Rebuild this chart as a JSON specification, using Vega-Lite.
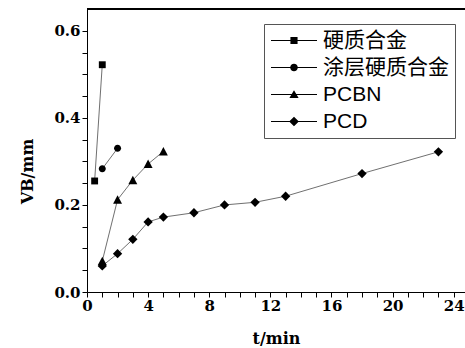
{
  "$schema": "https://vega.github.io/schema/vega-lite/v6.json",
  "width": 378,
  "height": 283,
  "autosize": {"type": "none"},
  "padding": {"left": 87, "top": 9, "right": 0, "bottom": 56},
  "background": "white",
  "config": {
    "view": {"stroke": null},
    "axis": {
      "grid": false,
      "domainColor": "black",
      "domainWidth": 1,
      "tickColor": "black",
      "tickWidth": 1,
      "labelColor": "black",
      "titleColor": "black",
      "labelFont": "DejaVu Serif",
      "labelFontWeight": "bold",
      "labelFontSize": 15,
      "titleFont": "DejaVu Serif",
      "titleFontWeight": "bold",
      "titleFontSize": 16,
      "labelOverlap": false,
      "labelFlush": false
    }
  },
  "data": {
    "values": [
      {"s": "硬质合金", "t": 0.5, "v": 0.255},
      {"s": "硬质合金", "t": 1, "v": 0.522},
      {"s": "涂层硬质合金", "t": 1, "v": 0.283},
      {"s": "涂层硬质合金", "t": 2, "v": 0.33},
      {"s": "PCBN", "t": 1, "v": 0.071},
      {"s": "PCBN", "t": 2, "v": 0.212},
      {"s": "PCBN", "t": 3, "v": 0.257},
      {"s": "PCBN", "t": 4, "v": 0.294},
      {"s": "PCBN", "t": 5, "v": 0.323},
      {"s": "PCD", "t": 1, "v": 0.06},
      {"s": "PCD", "t": 2, "v": 0.088},
      {"s": "PCD", "t": 3, "v": 0.121},
      {"s": "PCD", "t": 4, "v": 0.161},
      {"s": "PCD", "t": 5, "v": 0.172},
      {"s": "PCD", "t": 7, "v": 0.182},
      {"s": "PCD", "t": 9, "v": 0.2},
      {"s": "PCD", "t": 11, "v": 0.206},
      {"s": "PCD", "t": 13, "v": 0.22},
      {"s": "PCD", "t": 18, "v": 0.272},
      {"s": "PCD", "t": 23, "v": 0.322}
    ]
  },
  "encoding": {
    "x": {
      "field": "t",
      "type": "quantitative",
      "scale": {"domain": [0, 24.74], "nice": false, "zero": false},
      "axis": {
        "title": "t/min",
        "values": [0,1,2,3,4,5,6,7,8,9,10,11,12,13,14,15,16,17,18,19,20,21,22,23,24],
        "labelExpr": "datum.value % 4 === 0 ? datum.label : ''",
        "tickSize": 5,
        "labelPadding": 1,
        "titleY": 51,
        "titleBaseline": "alphabetic",
        "encode": {"ticks": {"y2": {"signal": "datum.value % 2 === 0 ? 5 : 3"}}}
      }
    },
    "y": {
      "field": "v",
      "type": "quantitative",
      "scale": {"domain": [0, 0.65], "nice": false},
      "axis": {
        "title": "VB/mm",
        "values": [0,0.05,0.1,0.15,0.2,0.25,0.3,0.35,0.4,0.45,0.5,0.55,0.6],
        "labelExpr": "round(datum.value*100) % 20 === 0 ? format(datum.value, '.1f') : ''",
        "tickSize": 5,
        "labelPadding": 2,
        "titleX": -60,
        "titleY": 162,
        "titleBaseline": "middle",
        "titleAlign": "center",
        "encode": {"ticks": {"x2": {"signal": "round(datum.value*100) % 10 === 0 ? -5 : -3"}}}
      }
    }
  },
  "resolve": {"scale": {"shape": "independent"}, "legend": {"shape": "independent"}},
  "layer": [
    {
      "mark": {"type": "line", "color": "#707070", "strokeWidth": 1},
      "encoding": {"detail": {"field": "s"}}
    },
    {
      "mark": {"type": "point", "filled": true, "color": "black", "opacity": 1, "size": 18},
      "encoding": {
        "shape": {
          "field": "s",
          "type": "nominal",
          "scale": {
            "domain": ["硬质合金", "涂层硬质合金", "PCBN", "PCD"],
            "range": [
              "M-1.62,-1.62H1.62V1.62H-1.62Z",
              "M1.66,0A1.66,1.66,0,1,1,-1.66,0A1.66,1.66,0,1,1,1.66,0Z",
              "M0,-2.1L2.1,1.9H-2.1Z",
              "M0,-2.2L2.2,0L0,2.2L-2.2,0Z"
            ]
          },
          "legend": null
        }
      }
    },
    {
      "transform": [{"filter": "datum.t < 0"}],
      "mark": {"type": "point", "filled": true, "color": "black", "opacity": 1, "size": 2116},
      "encoding": {
        "shape": {
          "field": "s",
          "type": "nominal",
          "scale": {
            "domain": ["硬质合金", "涂层硬质合金", "PCBN", "PCD"],
            "range": [
              "M-1,-0.024H1V0.024H-1ZM-0.155,-0.155H0.155V0.155H-0.155Z",
              "M-1,-0.024H1V0.024H-1ZM0.165,0A0.165,0.165,0,1,1,-0.165,0A0.165,0.165,0,1,1,0.165,0Z",
              "M-1,-0.024H1V0.024H-1ZM0,-0.18L0.2,0.15H-0.2Z",
              "M-1,-0.024H1V0.024H-1ZM0,-0.21L0.21,0L0,0.21L-0.21,0Z"
            ]
          },
          "legend": {
            "title": null,
            "orient": "none",
            "legendX": 177,
            "legendY": 15,
            "padding": 6,
            "rowPadding": 5,
            "clipHeight": 21,
            "labelOffset": 5,
            "strokeColor": "#555",
            "fillColor": "white",
            "symbolSize": 2116,
            "symbolFillColor": "black",
            "labelFont": "'Liberation Sans', 'Noto Sans CJK SC', sans-serif",
            "labelFontSize": 21,
            "labelColor": "black",
            "labelLimit": 300
          }
        }
      }
    },
    {
      "mark": {"type": "rule", "color": "black", "strokeWidth": 1},
      "encoding": {"y": {"datum": 0.65}, "x": null}
    }
  ]
}
